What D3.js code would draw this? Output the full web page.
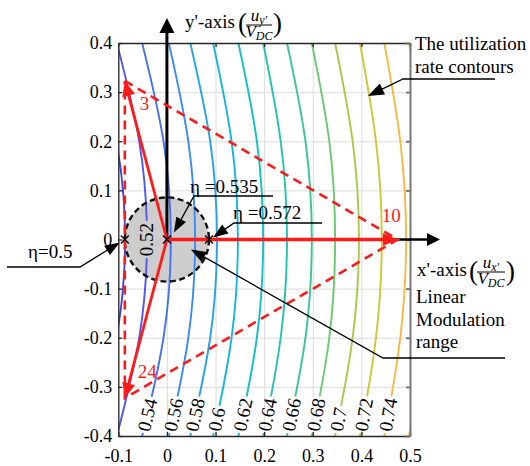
<!DOCTYPE html>
<html><head><meta charset="utf-8">
<script src="https://cdn.jsdelivr.net/npm/d3@7"></script>
<style>
body{margin:0;background:#fff}
svg{display:block;font-family:"Liberation Serif","Times New Roman","DejaVu Serif",serif}
</style>
</head><body>
<svg id="c" width="530" height="466"></svg>
<script>
// ---------------- data ----------------
const xTicks = [-0.1, 0, 0.1, 0.2, 0.3, 0.4, 0.5];
const xTickLabels = ["-0.1", "0", "0.1", "0.2", "0.3", "0.4", "0.5"];
const yTicks = [-0.4, -0.3, -0.2, -0.1, 0, 0.1, 0.2, 0.3, 0.4];
const yTickLabels = ["-0.4", "-0.3", "-0.2", "-0.1", "0", "0.1", "0.2", "0.3", "0.4"];

// utilization-rate contour levels and their x positions at y = 0, ±0.2, ±0.4
const contourLevels = [0.50, 0.52, 0.54, 0.56, 0.58, 0.60, 0.62, 0.64, 0.66, 0.68, 0.70, 0.72, 0.74, 0.76];
const contourLabels = ["", "0.52", "0.54", "0.56", "0.58", "0.6", "0.62", "0.64", "0.66", "0.68", "0.7", "0.72", "0.74", ""];
const contourXAtY0  = [-0.086, -0.041, 0.008, 0.058, 0.103, 0.146, 0.198, 0.247, 0.298, 0.346, 0.395, 0.442, 0.492, 0.541];
const contourXAtY02 = [-0.104, -0.057, -0.007, 0.044, 0.089, 0.133, 0.185, 0.234, 0.285, 0.334, 0.382, 0.430, 0.480, 0.530];
const contourXAtY04 = [-0.155, -0.103, -0.051, 0.004, 0.048, 0.095, 0.147, 0.198, 0.247, 0.298, 0.346, 0.397, 0.447, 0.498];
const contourColors = ["#4343d6", "#5058ee", "#4472f2", "#3a8cf4", "#24a2ee", "#15b6da", "#10bfca", "#20c2b2",
                       "#38c69a", "#6cca6e", "#a6ca44", "#d0c632", "#f8b842", "#f6c232"];

// voltage vectors
const vectorNames = ["3", "10", "24"];
const vectorX = [-0.0866, 0.475, -0.0866];
const vectorY = [0.3227, 0, -0.3227];

// marked utilization points on the x' axis
const markX = [-0.0866, 0, 0.0866];
const markEta = ["η=0.5", "η =0.535", "η =0.572"];

const linearRangeRadius = 0.0866;

// ---------------- layout ----------------
const svg = d3.select("#c");
const L = 118.3, R = 410, T = 43, B = 436;
const x = d3.scaleLinear().domain([-0.1, 0.5]).range([L, R]);
const y = d3.scaleLinear().domain([-0.4, 0.4]).range([B, T]);
const FS = 18;
const SERIF = "Liberation Serif, Times New Roman, DejaVu Serif, serif";

svg.append("defs").append("clipPath").attr("id", "plotclip")
  .append("rect").attr("x", L).attr("y", T).attr("width", R - L).attr("height", B - T);

// grid
const grid = svg.append("g");
grid.append("g").attr("transform", `translate(0,${B})`)
  .call(d3.axisBottom(x).tickValues(xTicks).tickSize(-(B - T)).tickFormat(""))
  .call(g => g.select(".domain").remove())
  .call(g => g.selectAll("line").attr("stroke", "#dcdcdc").attr("stroke-width", 1));
grid.append("g").attr("transform", `translate(${L},0)`)
  .call(d3.axisLeft(y).tickValues(yTicks).tickSize(-(R - L)).tickFormat(""))
  .call(g => g.select(".domain").remove())
  .call(g => g.selectAll("line").attr("stroke", "#dcdcdc").attr("stroke-width", 1));

// linear modulation range (filled circle)
const cx0 = x(0), cy0 = y(0), rPx = x(linearRangeRadius) - x(0);
svg.append("circle").attr("cx", cx0).attr("cy", cy0).attr("r", rPx).attr("fill", "#cdcdcd");

// contours
const cg = svg.append("g").attr("clip-path", "url(#plotclip)");
const lineGen = d3.line().x(d => x(d[0])).y(d => y(d[1])).curve(d3.curveNatural);
const labelG = svg.append("g");
contourLevels.forEach((lev, i) => {
  const pts = [[contourXAtY04[i], -0.4], [contourXAtY02[i], -0.2], [contourXAtY0[i], 0],
               [contourXAtY02[i], 0.2], [contourXAtY04[i], 0.4]];
  const p = cg.append("path").attr("d", lineGen(pts)).attr("fill", "none")
    .attr("stroke", contourColors[i]).attr("stroke-width", 1.9);
  const lab = contourLabels[i];
  if (!lab) return;
  const node = p.node();
  const total = node.getTotalLength();
  const findS = (targetY) => {
    let lo = 0, hi = total;
    for (let k = 0; k < 40; k++) {
      const mid = (lo + hi) / 2;
      if (node.getPointAtLength(mid).y > targetY) lo = mid; else hi = mid;
    }
    return (lo + hi) / 2;
  };
  const t = labelG.append("text").text(lab).attr("font-size", 19).attr("font-family", SERIF)
    .attr("dominant-baseline", "central");
  const len = t.node().getComputedTextLength();
  let sMid;
  if (lev === 0.52) {
    sMid = findS(y(0));
  } else {
    const s0 = findS(B - 5);
    sMid = s0 + len / 2;
  }
  const pm = node.getPointAtLength(sMid);
  const pa = node.getPointAtLength(Math.max(0, sMid - 3));
  const pb = node.getPointAtLength(Math.min(total, sMid + 3));
  const ang = Math.atan2(pb.y - pa.y, pb.x - pa.x) * 180 / Math.PI;
  t.attr("text-anchor", "middle").attr("transform", `translate(${pm.x},${pm.y}) rotate(${ang})`);
  const g0 = sMid - len / 2 - 2;
  p.attr("stroke-dasharray", `${g0} ${len + 4} ${total}`);
});

// frame & ticks
const tick = 4;
const axB = svg.append("g").attr("transform", `translate(0,${B})`)
  .call(d3.axisBottom(x).tickValues(xTicks).tickSizeInner(-tick).tickSizeOuter(0).tickPadding(13)
    .tickFormat((d, i) => xTickLabels[i]));
const axL = svg.append("g").attr("transform", `translate(${L},0)`)
  .call(d3.axisLeft(y).tickValues(yTicks).tickSizeInner(-tick).tickSizeOuter(0).tickPadding(6)
    .tickFormat((d, i) => yTickLabels[i]));
const axT = svg.append("g").attr("transform", `translate(0,${T})`)
  .call(d3.axisTop(x).tickValues(xTicks).tickSizeInner(-tick).tickSizeOuter(0).tickFormat(""));
const axR = svg.append("g").attr("transform", `translate(${R},0)`)
  .call(d3.axisRight(y).tickValues(yTicks).tickSizeInner(-tick).tickSizeOuter(0).tickFormat(""));
[axB, axL, axT].forEach(a => {
  a.attr("font-family", SERIF);
  a.selectAll("path,line").attr("stroke", "#262626").attr("stroke-width", 1.3);
  a.selectAll("text").attr("font-size", FS).attr("fill", "#000").attr("font-family", SERIF);
});
axR.selectAll("path,line").attr("stroke", "#777").attr("stroke-width", 2);

// dashed circle border
svg.append("circle").attr("cx", cx0).attr("cy", cy0).attr("r", rPx).attr("fill", "none")
  .attr("stroke", "#111").attr("stroke-width", 2.4).attr("stroke-dasharray", "6,3.5");

// helpers
function head(g, x1, y1, x2, y2, len, wid, color) {
  const a = Math.atan2(y2 - y1, x2 - x1);
  const bx = x2 - len * Math.cos(a), by = y2 - len * Math.sin(a);
  const px = -Math.sin(a) * wid / 2, py = Math.cos(a) * wid / 2;
  g.append("path").attr("d", `M${x2},${y2}L${bx + px},${by + py}L${bx - px},${by - py}Z`).attr("fill", color);
  return [bx + Math.cos(a) * 2, by + Math.sin(a) * 2];
}
function arrow(g, pts, color, w, len, wid) {
  const n = pts.length;
  const [x1, y1] = pts[n - 2], [x2, y2] = pts[n - 1];
  const base = head(g, x1, y1, x2, y2, len, wid, color);
  const d = pts.slice(0, n - 1).concat([base]);
  g.append("path").attr("d", d3.line()(d)).attr("fill", "none").attr("stroke", color).attr("stroke-width", w);
}

// black axes (x', y')
const ax = svg.append("g");
arrow(ax, [[cx0, cy0], [cx0, 18]], "#000", 3, 15, 15);
arrow(ax, [[cx0, cy0], [440, cy0]], "#000", 2.6, 13, 13);

// red vectors & dashed triangle
const red = "#ff1a1a";
const vg = svg.append("g");
const tri = vectorX.map((vx, i) => [x(vx), y(vectorY[i])]);
vg.append("path").attr("d", d3.line()(tri.concat([tri[0]]))).attr("fill", "none")
  .attr("stroke", red).attr("stroke-width", 2.6).attr("stroke-dasharray", "9,6");
vectorX.forEach((vx, i) => {
  arrow(vg, [[cx0, cy0], [x(vx), y(vectorY[i])]], red, i === 1 ? 3.4 : 2.8, 15, 13);
});
const nameOff = [[15, 29], [-16, -18], [13, -20]];
vectorNames.forEach((nm, i) => {
  vg.append("text").text(nm).attr("x", x(vectorX[i]) + nameOff[i][0]).attr("y", y(vectorY[i]) + nameOff[i][1])
    .attr("fill", red).attr("font-size", 19).attr("font-family", SERIF);
});

// x marks
markX.forEach(mx => {
  const px = x(mx), py = y(0), s = 4;
  svg.append("path").attr("d", `M${px - s},${py - s}L${px + s},${py + s}M${px - s},${py + s}L${px + s},${py - s}`)
    .attr("stroke", "#000").attr("stroke-width", 1.3);
});

// annotations
const an = svg.append("g").attr("font-family", SERIF);
const txt = (s, tx, ty, fs = 19) => an.append("text").text(s).attr("x", tx).attr("y", ty).attr("font-size", fs);
// eta = 0.5
txt(markEta[0], 28, 258);
arrow(an, [[7, 267], [80, 267], [x(markX[0]) - 5, y(0) + 3]], "#000", 1.3, 15, 11);
// eta = 0.535
txt(markEta[1], 190, 193);
arrow(an, [[273, 196], [194, 196], [x(markX[1]) + 7, y(0) - 7]], "#000", 1.3, 15, 11);
// eta = 0.572
txt(markEta[2], 233, 219);
arrow(an, [[322, 223], [234, 223], [x(markX[2]) + 4, y(0) - 2]], "#000", 1.3, 15, 11);
// linear modulation range
txt("Linear", 416, 303); txt("Modulation", 416, 326); txt("range", 416, 348);
arrow(an, [[505, 358], [383, 358], [cx0 + 24, cy0 + 10]], "#000", 1.3, 15, 11);
// utilization contours
txt("The utilization", 415, 50); txt("rate contours", 415, 73);
arrow(an, [[495, 79], [403, 79], [368, 96]], "#000", 1.3, 16, 12);

// axis labels with fractions
function fracLabel(main, mx, base, num, numSub, den, denSub, fx, fw, barY) {
  txt(main, mx, base);
  an.append("text").text("(").attr("x", fx - 8).attr("y", base + 4).attr("font-size", 27);
  an.append("text").text(")").attr("x", fx + fw + 1).attr("y", base + 4).attr("font-size", 27);
  const n = an.append("text").attr("x", fx + fw / 2).attr("y", barY - 4).attr("text-anchor", "middle").attr("font-size", 17);
  n.append("tspan").attr("font-style", "italic").text(num);
  n.append("tspan").attr("font-style", "italic").attr("font-size", 12).attr("dy", 3).text(numSub);
  an.append("line").attr("x1", fx).attr("x2", fx + fw).attr("y1", barY).attr("y2", barY).attr("stroke", "#000").attr("stroke-width", 1);
  const dd = an.append("text").attr("x", fx + fw / 2).attr("y", barY + 12).attr("text-anchor", "middle").attr("font-size", 17);
  dd.append("tspan").attr("font-style", "italic").text(den);
  dd.append("tspan").attr("font-style", "italic").attr("font-size", 12).attr("dy", 3).text(denSub);
}
fracLabel("y'-axis", 185, 28, "u", "y'", "V", "DC", 246, 26, 25);
fracLabel("x'-axis", 417, 276, "u", "x'", "V", "DC", 477, 28, 272);
</script>
</body></html>
